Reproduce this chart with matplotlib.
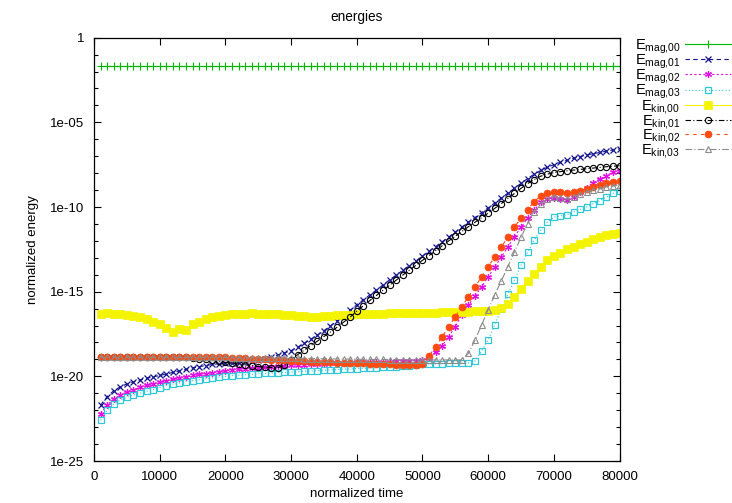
import numpy as np
import matplotlib
matplotlib.use("Agg")
import matplotlib.pyplot as plt
from matplotlib.ticker import FixedLocator, NullFormatter

plt.rcParams['font.family'] = ['Liberation Sans', 'DejaVu Sans']
plt.rcParams['mathtext.fontset'] = 'custom'
plt.rcParams['mathtext.rm'] = 'Liberation Sans'

# normalized time (in units of 1000)
time_k = [1, 2, 3, 4, 5, 6, 7, 8, 9, 10, 11, 12, 13, 14, 15, 16, 17, 18, 19, 20,
          21, 22, 23, 24, 25, 26, 27, 28, 29, 30, 31, 32, 33, 34, 35, 36, 37, 38, 39, 40,
          41, 42, 43, 44, 45, 46, 47, 48, 49, 50, 51, 52, 53, 54, 55, 56, 57, 58, 59, 60,
          61, 62, 63, 64, 65, 66, 67, 68, 69, 70, 71, 72, 73, 74, 75, 76, 77, 78, 79, 80]

# -log10 of normalized energy
nlog_mag00 = [1.68, 1.68, 1.68, 1.68, 1.68, 1.68, 1.68, 1.68, 1.68, 1.68,
              1.68, 1.68, 1.68, 1.68, 1.68, 1.68, 1.68, 1.68, 1.68, 1.68,
              1.68, 1.68, 1.68, 1.68, 1.68, 1.68, 1.68, 1.68, 1.68, 1.68,
              1.68, 1.68, 1.68, 1.68, 1.68, 1.68, 1.68, 1.68, 1.68, 1.68,
              1.68, 1.68, 1.68, 1.68, 1.68, 1.68, 1.68, 1.68, 1.68, 1.68,
              1.68, 1.68, 1.68, 1.68, 1.68, 1.68, 1.68, 1.68, 1.68, 1.68,
              1.68, 1.68, 1.68, 1.68, 1.68, 1.68, 1.68, 1.68, 1.68, 1.68,
              1.68, 1.68, 1.68, 1.68, 1.68, 1.68, 1.68, 1.68, 1.68, 1.68]
nlog_mag01 = [21.7, 21.2, 20.85, 20.62, 20.45, 20.32, 20.22, 20.12, 20.03, 19.95,
              19.86, 19.77, 19.68, 19.59, 19.5, 19.43, 19.36, 19.3, 19.25, 19.22,
              19.2, 19.19, 19.17, 19.12, 19.02, 18.95, 18.85, 18.75, 18.62, 18.48,
              18.28, 18.06, 17.82, 17.57, 17.3, 17.02, 16.73, 16.43, 16.1, 15.77,
              15.48, 15.19, 14.9, 14.6, 14.3, 14.02, 13.74, 13.46, 13.18, 12.9,
              12.62, 12.34, 12.05, 11.77, 11.48, 11.19, 10.9, 10.62, 10.33, 10.05,
              9.76, 9.47, 9.18, 8.89, 8.6, 8.32, 8.06, 7.84, 7.65, 7.5,
              7.36, 7.24, 7.12, 7.02, 6.93, 6.85, 6.78, 6.7, 6.63, 6.57]
nlog_mag02 = [22.2, 21.7, 21.35, 21.1, 20.92, 20.78, 20.65, 20.54, 20.45, 20.36,
              20.27, 20.18, 20.1, 20.02, 19.95, 19.89, 19.84, 19.78, 19.72, 19.67,
              19.62, 19.58, 19.54, 19.51, 19.48, 19.45, 19.42, 19.4, 19.37, 19.35,
              19.33, 19.31, 19.29, 19.27, 19.25, 19.23, 19.22, 19.2, 19.19, 19.18,
              19.17, 19.16, 19.15, 19.14, 19.13, 19.12, 19.11, 19.1, 19.08, 19.05,
              18.9, 18.55, 18.2, 17.65, 17.07, 16.35, 15.8, 15.25, 14.72, 14.13,
              13.55, 12.95, 12.36, 11.75, 11.2, 10.65, 10.2, 9.72, 9.5, 9.48,
              9.54, 9.58, 9.42, 9.12, 8.85, 8.56, 8.35, 8.14, 7.94, 7.85]
nlog_mag03 = [22.6, 22.0, 21.65, 21.4, 21.22, 21.1, 21.0, 20.88, 20.78, 20.66,
              20.55, 20.46, 20.39, 20.32, 20.26, 20.2, 20.15, 20.1, 20.05, 20.0,
              19.96, 19.93, 19.9, 19.88, 19.85, 19.83, 19.81, 19.79, 19.77, 19.75,
              19.72, 19.7, 19.68, 19.66, 19.64, 19.62, 19.6, 19.58, 19.56, 19.54,
              19.52, 19.5, 19.48, 19.46, 19.44, 19.42, 19.4, 19.38, 19.35, 19.3,
              19.27, 19.26, 19.25, 19.24, 19.23, 19.22, 19.2, 19.1, 18.5, 17.85,
              16.97, 16.0, 15.15, 14.32, 13.45, 12.68, 11.95, 11.36, 10.9, 10.6,
              10.52, 10.46, 10.3, 10.14, 10.0, 9.8, 9.62, 9.42, 9.2, 9.05]
nlog_kin00 = [16.3, 16.28, 16.3, 16.33, 16.38, 16.43, 16.52, 16.64, 16.78, 16.93,
              17.12, 17.38, 17.22, 17.28, 16.92, 16.78, 16.62, 16.5, 16.42, 16.36,
              16.33, 16.3, 16.3, 16.28, 16.3, 16.31, 16.3, 16.33, 16.35, 16.38,
              16.42, 16.45, 16.47, 16.48, 16.45, 16.42, 16.4, 16.37, 16.35, 16.33,
              16.32, 16.3, 16.3, 16.29, 16.28, 16.28, 16.27, 16.26, 16.25, 16.25,
              16.24, 16.23, 16.22, 16.21, 16.2, 16.19, 16.18, 16.16, 16.14, 16.12,
              16.1, 15.95, 15.7, 15.3, 14.85, 14.38, 13.95, 13.55, 13.15, 12.92,
              12.7, 12.5, 12.35, 12.18, 12.04, 11.9, 11.79, 11.68, 11.6, 11.52]
nlog_kin01 = [18.88, 18.88, 18.88, 18.88, 18.88, 18.88, 18.88, 18.88, 18.88, 18.88,
              18.88, 18.88, 18.88, 18.88, 18.9, 18.95, 19.0, 19.05, 19.12, 19.18,
              19.22, 19.27, 19.32, 19.37, 19.42, 19.46, 19.48, 19.48, 19.35, 19.05,
              18.72, 18.45, 18.18, 17.92, 17.65, 17.38, 17.1, 16.8, 16.5, 16.15,
              15.83, 15.52, 15.22, 14.92, 14.62, 14.32, 14.02, 13.73, 13.44, 13.15,
              12.87, 12.58, 12.29, 12.0, 11.72, 11.44, 11.16, 10.9, 10.63, 10.36,
              10.08, 9.8, 9.5, 9.2, 8.9, 8.62, 8.38, 8.18, 8.06, 7.97,
              7.91, 7.86, 7.82, 7.78, 7.74, 7.7, 7.66, 7.62, 7.59, 7.56]
nlog_kin02 = [18.88, 18.88, 18.88, 18.88, 18.88, 18.88, 18.88, 18.88, 18.88, 18.88,
              18.88, 18.88, 18.88, 18.88, 18.88, 18.88, 18.88, 18.88, 18.88, 18.88,
              18.9, 18.92, 18.94, 18.96, 18.98, 19.0, 19.02, 19.04, 19.06, 19.08,
              19.1, 19.12, 19.14, 19.15, 19.17, 19.18, 19.2, 19.21, 19.22, 19.23,
              19.24, 19.25, 19.27, 19.28, 19.3, 19.31, 19.33, 19.34, 19.33, 19.25,
              18.8, 18.25, 17.66, 17.07, 16.48, 15.88, 15.3, 14.72, 14.13, 13.53,
              12.95, 12.37, 11.77, 11.19, 10.66, 10.16, 9.68, 9.35, 9.18, 9.14,
              9.14, 9.17, 9.14, 9.06, 8.95, 8.8, 8.68, 8.58, 8.5, 8.45]
nlog_kin03 = [18.88, 18.88, 18.88, 18.88, 18.88, 18.88, 18.88, 18.88, 18.88, 18.88,
              18.88, 18.88, 18.88, 18.88, 18.88, 18.88, 18.88, 18.88, 18.88, 18.88,
              18.89, 18.9, 18.9, 18.91, 18.91, 18.92, 18.92, 18.93, 18.93, 18.94,
              18.94, 18.95, 18.95, 18.96, 18.96, 18.97, 18.97, 18.98, 18.98, 18.99,
              18.99, 19.0, 19.0, 19.0, 19.01, 19.01, 19.02, 19.02, 19.02, 19.03,
              19.03, 19.03, 19.03, 19.03, 19.03, 19.03, 18.64, 17.86, 16.97, 16.08,
              15.2, 14.38, 13.52, 12.65, 11.8, 10.98, 10.3, 9.82, 9.5, 9.4,
              9.46, 9.52, 9.4, 9.24, 9.1, 9.0, 8.92, 8.84, 8.76, 8.7]

labels = [r'$\mathregular{E_{mag{,}00}}$', r'$\mathregular{E_{mag{,}01}}$',
          r'$\mathregular{E_{mag{,}02}}$', r'$\mathregular{E_{mag{,}03}}$',
          r'$\mathregular{E_{kin{,}00}}$', r'$\mathregular{E_{kin{,}01}}$',
          r'$\mathregular{E_{kin{,}02}}$', r'$\mathregular{E_{kin{,}03}}$']
series = [nlog_mag00, nlog_mag01, nlog_mag02, nlog_mag03,
          nlog_kin00, nlog_kin01, nlog_kin02, nlog_kin03]

styles = [
    dict(color='#00b800', ls='-', marker='+', ms=5.5, mfc='#00b800', mew=0.8),
    dict(color='#14148c', ls=(0, (4, 3)), marker='x', ms=4.5, mew=0.9),
    dict(color='#e010e0', ls=(0, (2, 2)), marker=(6, 2, 0), ms=5, mew=0.9),
    dict(color='#30c8d8', ls=(0, (1, 2)), marker='s', ms=4.3, mfc='none', mew=0.9),
    dict(color='#f4f400', ls='-', marker='s', ms=5.2, mfc='#f4f400', mew=0.5),
    dict(color='#000000', ls=(0, (5, 2, 1, 2)), marker='o', ms=4.5, mfc='none', mew=0.8),
    dict(color='#ff4a10', ls=(0, (3, 4)), marker='o', ms=5, mfc='#ff4a10', mew=0.5),
    dict(color='#8c8c8c', ls=(0, (6, 2, 1, 2)), marker='^', ms=4.5, mfc='none', mew=0.8),
]

t = np.array(time_k) * 1000.0

fig = plt.figure(figsize=(7.32, 5.03), dpi=100)
ax = fig.add_axes([94 / 732, 1 - 461 / 503, (619.5 - 94) / 732, (461 - 37.7) / 503])

for vals, lab, st in zip(series, labels, styles):
    ax.plot(t, 10.0 ** (-np.array(vals)), label=lab, lw=0.8, **st)

ax.set_yscale('log')
ax.set_xlim(0, 80000)
ax.set_ylim(1e-25, 1)
ax.xaxis.set_major_locator(FixedLocator([0, 10000, 20000, 30000, 40000, 50000, 60000, 70000, 80000]))
ax.set_xticklabels(['0', '10000', '20000', '30000', '40000', '50000', '60000', '70000', '80000'])
ax.yaxis.set_major_locator(FixedLocator([1e-25, 1e-20, 1e-15, 1e-10, 1e-5, 1]))
ax.set_yticklabels(['1e-25', '1e-20', '1e-15', '1e-10', '1e-05', '1'])
ax.yaxis.set_minor_locator(FixedLocator([10.0 ** (-k) for k in range(0, 26)]))
ax.yaxis.set_minor_formatter(NullFormatter())
ax.tick_params(which='both', direction='in', top=True, right=True, labelsize=9.5, colors='black')
ax.tick_params(which='major', length=5, width=0.8, pad=7)
ax.tick_params(which='minor', length=3, width=0.8)
for s in ax.spines.values():
    s.set_linewidth(0.9)

ax.set_title('energies', fontsize=9.8, pad=12)
ax.set_xlabel('normalized time', fontsize=9.5, labelpad=4)
ax.set_ylabel('normalized energy', fontsize=9.5, labelpad=8)

leg = fig.legend(loc='upper right', bbox_to_anchor=(1.0, 1 - 36 / 503), frameon=False,
                 markerfirst=False, numpoints=1, handlelength=3.1, handletextpad=0.35,
                 labelspacing=-0.22, borderaxespad=0, borderpad=0.1, fontsize=10.5)

fig.savefig('out.png', dpi=100)
